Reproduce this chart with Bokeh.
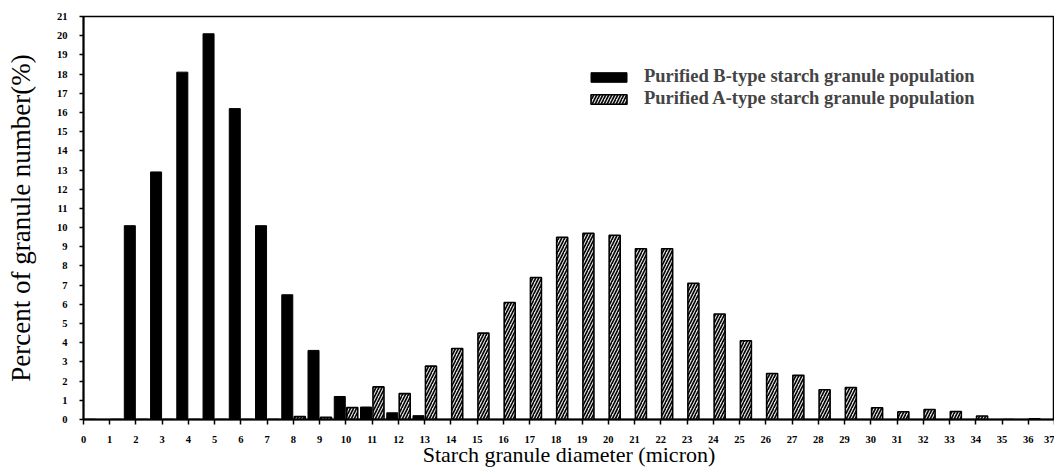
from bokeh.plotting import figure
from bokeh.models import Range1d, Legend, LegendItem, FixedTicker, ColumnDataSource
from bokeh.embed import file_html
from bokeh.resources import INLINE

# Data (diameter in micron, percent of granule number)
diameters = list(range(0, 37))
b_type = [0, 0, 10.1, 12.9, 18.1, 20.1, 16.2, 10.1, 6.5, 3.6, 1.2, 0.65, 0.35, 0.2,
          0, 0, 0, 0, 0, 0, 0, 0, 0, 0, 0, 0, 0, 0, 0, 0, 0, 0, 0, 0, 0, 0, 0]
a_type = [0, 0, 0, 0, 0, 0, 0, 0, 0.15, 0.12, 0.62, 1.7, 1.35, 2.78,
          3.7, 4.5, 6.1, 7.4, 9.5, 9.7, 9.6, 8.9, 8.9, 7.1, 5.5, 4.1,
          2.4, 2.3, 1.55, 1.67, 0.61, 0.4, 0.52, 0.42, 0.18, 0, 0.03]
x_ticks = list(range(0, 38))
y_ticks = list(range(0, 22))

label_b = "Purified B-type starch granule population"
label_a = "Purified A-type starch granule population"

src = ColumnDataSource(dict(
    xb=[d - 0.235 for d in diameters],
    xa=[d + 0.24 for d in diameters],
    b=b_type, a=a_type))

p = figure(width=1054, height=469, x_range=Range1d(0, 37), y_range=Range1d(0, 21),
           output_backend="svg", toolbar_location=None,
           min_border_left=83, min_border_right=0, min_border_top=16, min_border_bottom=0)

rb = p.vbar(x="xb", top="b", width=0.42, source=src, fill_color="black",
            line_color="black", line_width=1)
ra = p.vbar(x="xa", top="a", width=0.42, source=src, fill_color="#e0e0e0",
            line_color="black", line_width=1.6, hatch_pattern="right_diagonal_line",
            hatch_color="black", hatch_weight=1.6, hatch_scale=6)

p.xgrid.visible = False
p.ygrid.visible = False
p.outline_line_color = "black"
p.outline_line_width = 1.5

for ax in (p.xaxis[0], p.yaxis[0]):
    ax.major_label_text_font = "Liberation Serif"
    ax.major_label_text_font_style = "bold"
    ax.major_label_text_font_size = "10.5px"
    ax.major_label_text_color = "black"
    ax.axis_label_text_font = "Liberation Serif"
    ax.axis_label_text_font_style = "normal"
    ax.axis_label_text_color = "black"
    ax.axis_line_color = "black"
    ax.axis_line_width = 2
    ax.major_tick_line_color = "black"
    ax.major_tick_line_width = 1.5
    ax.major_tick_in = 0
    ax.minor_tick_line_color = None

p.xaxis.ticker = FixedTicker(ticks=x_ticks)
p.yaxis.ticker = FixedTicker(ticks=y_ticks)
p.xaxis.major_tick_out = 5
p.yaxis.major_tick_out = 4
p.xaxis.major_label_standoff = 11
p.yaxis.major_label_standoff = 12

p.xaxis.axis_label = "Starch granule diameter (micron)"
p.yaxis.axis_label = "Percent of granule number(%)"
p.xaxis.axis_label_text_font_size = "22px"
p.yaxis.axis_label_text_font_size = "27px"
p.xaxis.axis_label_standoff = -4
p.yaxis.axis_label_standoff = 18

legend = Legend(items=[LegendItem(label=label_b, renderers=[rb]),
                       LegendItem(label=label_a, renderers=[ra])],
                location=(503, 310))
legend.glyph_width = 45
legend.glyph_height = 12
legend.label_height = 12
legend.label_text_font = "Liberation Serif"
legend.label_text_font_style = "bold"
legend.label_text_font_size = "18.5px"
legend.label_standoff = 13
legend.padding = 0
legend.margin = 0
legend.spacing = 1
legend.border_line_alpha = 0
legend.background_fill_alpha = 0
p.add_layout(legend)

open("out.html", "w").write(file_html(p, INLINE))
